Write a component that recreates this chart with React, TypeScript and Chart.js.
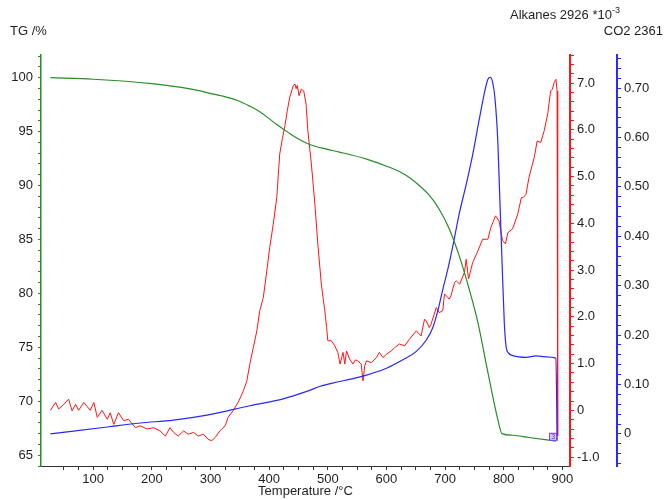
import React, { useEffect, useRef } from 'react';
import { Chart, registerables } from 'chart.js';
Chart.register(...registerables);

// TG curve (left axis, %)
const tgTemps = [27, 100, 200, 250, 280, 299, 320, 345, 367, 384, 400, 413, 430, 447, 469, 498, 520, 566, 605, 622, 639, 656, 673, 690, 707, 724, 740, 756, 770, 780, 790, 797, 815, 843, 889];
const tgValues = [100, 99.85, 99.45, 99.1, 98.8, 98.55, 98.3, 97.9, 97.35, 96.85, 96.2, 95.65, 95.02, 94.4, 93.8, 93.37, 93.1, 92.45, 91.7, 91.3, 90.75, 90.0, 89.1, 87.8, 86.0, 83.5, 80.6, 77.3, 73.5, 70.8, 68.3, 67.0, 66.85, 66.64, 66.3];

// Alkanes 2926 (red axis, *10^-3)
const alkTemps = [27, 36, 41, 50, 58, 64, 70, 75, 84, 95, 101, 107, 115, 124, 129, 135, 143, 152, 160, 172, 180, 192, 203, 214, 223, 231, 237, 245, 254, 262, 271, 279, 288, 296, 302, 308, 316, 325, 330, 339, 347, 352, 356, 362, 367, 373, 379, 384, 390, 396, 401, 407, 413, 418, 423, 427, 431, 435, 441, 444, 446, 448, 451, 455, 459, 463, 466, 472, 478, 483, 489, 492, 495, 498, 500, 506, 512, 517, 521, 524, 526, 529, 532, 537, 543, 547, 551, 557, 560, 563, 566, 574, 583, 588, 594, 600, 608, 614, 622, 631, 639, 651, 656, 659, 665, 668, 673, 676, 685, 690, 696, 699, 705, 707, 710, 716, 719, 725, 733, 736, 740, 747, 755, 764, 773, 778, 786, 792, 798, 803, 807, 815, 824, 830, 833, 838, 843, 852, 857, 863, 869, 875, 880, 883, 886, 889, 891, 892];
const alkValues = [0.0, 0.17, 0.03, 0.13, 0.24, -0.01, 0.13, 0.0, 0.17, 0.0, 0.17, -0.15, 0.0, -0.19, -0.05, -0.3, -0.05, -0.22, -0.19, -0.37, -0.33, -0.4, -0.37, -0.44, -0.55, -0.37, -0.47, -0.55, -0.44, -0.51, -0.47, -0.55, -0.51, -0.62, -0.65, -0.58, -0.44, -0.33, -0.15, 0.0, 0.17, 0.3, 0.42, 0.63, 0.99, 1.34, 1.7, 2.13, 2.41, 2.98, 3.48, 3.98, 4.55, 5.48, 5.84, 6.09, 6.41, 6.69, 6.94, 6.98, 6.88, 6.95, 6.73, 6.87, 6.83, 6.55, 5.98, 5.27, 4.41, 3.56, 2.7, 2.4, 2.13, 1.77, 1.49, 1.49, 1.38, 1.24, 0.99, 1.15, 1.24, 0.99, 1.27, 1.1, 0.99, 1.08, 1.06, 0.99, 0.63, 0.95, 1.06, 1.02, 1.13, 1.24, 1.13, 1.2, 1.27, 1.34, 1.42, 1.38, 1.52, 1.7, 1.63, 1.59, 1.95, 1.91, 1.77, 1.84, 2.2, 2.09, 2.13, 2.49, 2.41, 2.38, 2.45, 2.73, 2.77, 2.7, 2.95, 3.23, 2.81, 3.16, 3.38, 3.66, 3.66, 3.91, 4.16, 4.05, 3.63, 3.56, 3.8, 3.88, 4.2, 4.55, 4.55, 4.62, 4.98, 5.41, 5.76, 5.73, 5.98, 6.34, 6.83, 6.87, 7.01, 7.08, 6.83, -0.55];

// CO2 2361 (blue axis)
const co2Temps = [27, 124, 180, 237, 294, 367, 424, 469, 486, 520, 560, 600, 628, 651, 668, 679, 688, 696, 705, 713, 724, 736, 747, 758, 767, 773, 777, 781, 785, 790, 793, 797, 801, 804, 808, 812, 826, 838, 855, 872, 889, 891];
const co2Values = [0.0, 0.014, 0.022, 0.028, 0.038, 0.057, 0.071, 0.088, 0.096, 0.106, 0.117, 0.133, 0.15, 0.167, 0.19, 0.215, 0.251, 0.292, 0.335, 0.379, 0.445, 0.505, 0.565, 0.635, 0.69, 0.718, 0.722, 0.712, 0.68, 0.59, 0.487, 0.352, 0.224, 0.177, 0.164, 0.16, 0.156, 0.155, 0.158, 0.156, 0.153, -0.014];

const GREEN = 'rgb(40,140,40)';
const RED = 'rgb(255,20,20)';
const BLUE = 'rgb(40,40,255)';
const TEXT = '#1e1e1e';
const FAMILY = '"Liberation Sans", Arial, sans-serif';

const near = (v: number, step: number) => Math.abs(v / step - Math.round(v / step)) < 1e-6;

// build evenly stepped ticks inside the scale's range
const stepTicks = (step: number, from?: number) => (s: any) => {
  const out: any[] = [];
  const start = Math.ceil((from ?? s.min) / step - 1e-9);
  const end = Math.floor(s.max / step + 1e-9);
  for (let k = start; k <= end; k++) out.push({ value: Math.round(k * step * 1e6) / 1e6 });
  s.ticks = out;
};

const headerPlugin = {
  id: 'header',
  afterDraw(chart: any) {
    const ctx = chart.ctx;
    ctx.save();
    ctx.fillStyle = TEXT;
    ctx.font = `13px ${FAMILY}`;
    ctx.textBaseline = 'middle';
    ctx.textAlign = 'left';
    ctx.fillText('TG /%', 10, 31);
    const base = 'Alkanes 2926 *10';
    ctx.fillText(base, 510, 15);
    const w = ctx.measureText(base).width;
    ctx.font = `9px ${FAMILY}`;
    ctx.fillText('-3', 510 + w, 11);
    ctx.font = `13px ${FAMILY}`;
    ctx.textAlign = 'right';
    ctx.fillText('CO2 2361', 663, 31);
    // small purple end marker
    const xs = chart.scales.x;
    const ys = chart.scales.y2;
    const px = xs.getPixelForValue(co2Temps[co2Temps.length - 1]) - 4;
    const py = ys.getPixelForValue(co2Values[co2Values.length - 1]) - 4;
    ctx.fillStyle = 'rgba(200,180,255,0.6)';
    ctx.fillRect(px - 4, py - 4, 8, 8);
    ctx.strokeStyle = 'rgb(130,60,230)';
    ctx.lineWidth = 1;
    ctx.strokeRect(px - 4 + 0.5, py - 4 + 0.5, 7, 7);
    ctx.fillStyle = 'rgb(90,40,200)';
    ctx.font = `7px ${FAMILY}`;
    ctx.textAlign = 'center';
    ctx.fillText('3', px, py + 0.5);
    ctx.restore();
  },
};

export default function App() {
  const ref = useRef<HTMLCanvasElement>(null);
  useEffect(() => {
    if (!ref.current) return;
    const font = { family: FAMILY, size: 13 };
    const chart = new Chart(ref.current, {
      type: 'line',
      data: {
        datasets: [
          {
            data: tgTemps.map((t, i) => ({ x: t, y: tgValues[i] })),
            yAxisID: 'y',
            borderColor: GREEN,
            borderWidth: 1.2,
            pointRadius: 0,
            cubicInterpolationMode: 'monotone',
          },
          {
            data: co2Temps.map((t, i) => ({ x: t, y: co2Values[i] })),
            yAxisID: 'y2',
            borderColor: BLUE,
            borderWidth: 1.2,
            pointRadius: 0,
            cubicInterpolationMode: 'monotone',
          },
          {
            data: alkTemps.map((t, i) => ({ x: t, y: alkValues[i] })),
            yAxisID: 'y1',
            borderColor: RED,
            borderWidth: 1,
            pointRadius: 0,
            tension: 0,
          },
        ],
      },
      options: {
        animation: false,
        responsive: false,
        maintainAspectRatio: false,
        layout: { padding: { top: 55, left: 0, right: 0, bottom: 0 } },
        plugins: { legend: { display: false }, tooltip: { enabled: false } },
        scales: {
          x: {
            type: 'linear',
            position: 'bottom',
            min: 11,
            max: 913,
            border: { display: true, color: '#333', width: 1 },
            grid: { drawOnChartArea: false, drawTicks: true, tickLength: 4, color: '#333', tickColor: '#333' },
            ticks: {
              autoSkip: false,
              maxRotation: 0,
              padding: 2,
              color: TEXT,
              font,
              callback: (v: any) => (near(v, 100) ? String(v) : ''),
            },
            afterBuildTicks: stepTicks(25, 50),
            afterFit: (s: any) => {
              s.height = 34;
            },
            title: { display: true, text: 'Temperature /°C', color: TEXT, font, padding: { top: 0, bottom: 1 } },
          },
          y: {
            type: 'linear',
            position: 'left',
            min: 64.0,
            max: 102.1,
            border: { display: true, color: GREEN, width: 1.5 },
            grid: { drawOnChartArea: false, drawTicks: true, tickLength: 3, color: GREEN, tickColor: GREEN },
            ticks: {
              autoSkip: false,
              padding: 5,
              color: TEXT,
              font,
              callback: (v: any) => (near(v, 5) ? String(Math.round(v)) : ''),
            },
            afterBuildTicks: stepTicks(1),
            afterFit: (s: any) => {
              s.width = 41;
            },
          },
          y1: {
            type: 'linear',
            position: 'right',
            min: -1.19,
            max: 7.6,
            border: { display: true, color: RED, width: 2 },
            grid: { drawOnChartArea: false, drawTicks: true, tickLength: 4, color: RED, tickColor: RED },
            ticks: {
              autoSkip: false,
              padding: 3,
              color: TEXT,
              font,
              callback: (v: any) => {
                if (!near(v, 1)) return '';
                const r = Math.round(v);
                return r === 0 ? '0' : r.toFixed(1);
              },
            },
            afterBuildTicks: stepTicks(0.2),
            afterFit: (s: any) => {
              s.width = 47;
            },
          },
          y2: {
            type: 'linear',
            position: 'right',
            min: -0.065,
            max: 0.767,
            border: { display: true, color: BLUE, width: 2 },
            grid: { drawOnChartArea: false, drawTicks: true, tickLength: 4, color: BLUE, tickColor: BLUE },
            ticks: {
              autoSkip: false,
              padding: 3,
              color: TEXT,
              font,
              callback: (v: any) => {
                if (!near(v, 0.1)) return '';
                const r = Math.round(v * 10);
                return r === 0 ? '0' : (r / 10).toFixed(2);
              },
            },
            afterBuildTicks: stepTicks(0.02),
            afterFit: (s: any) => {
              s.width = 48;
            },
          },
        },
      } as any,
      plugins: [headerPlugin],
    });
    return () => chart.destroy();
  }, []);
  return (
    <div style={{ position: 'absolute', left: 0, top: 0, width: 665, height: 500, background: '#fff' }}>
      <canvas ref={ref} width={665} height={500} style={{ width: 665, height: 500, display: 'block' }} />
    </div>
  );
}
